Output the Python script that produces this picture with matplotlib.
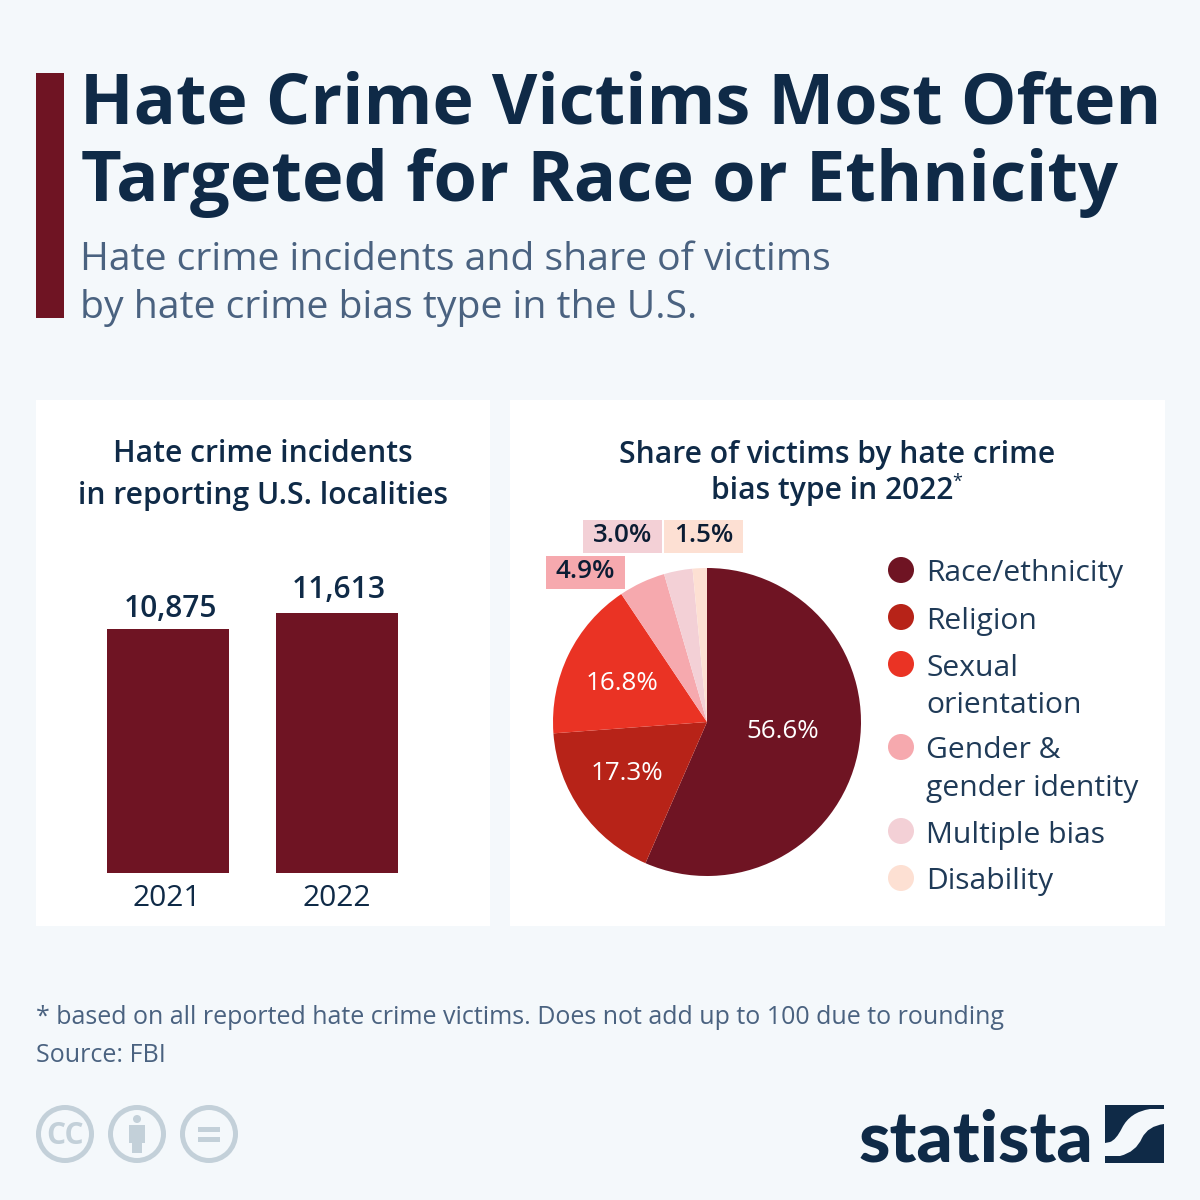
import matplotlib
matplotlib.use('Agg')
import matplotlib.pyplot as plt
from matplotlib.patches import Rectangle, Circle, PathPatch
from matplotlib.path import Path

plt.rcParams['font.family'] = ['Open Sans', 'DejaVu Sans']

years = ['2021', '2022']
incidents = [10875, 11613]

bias_types = ['Race/ethnicity', 'Religion', 'Sexual\norientation',
              'Gender &\ngender identity', 'Multiple bias', 'Disability']
shares = [56.6, 17.3, 16.8, 4.9, 3.0, 1.5]
pie_colors = ['#6f1423', '#b72318', '#ea3324', '#f6a9ae', '#f3d0d6', '#fde0d3']

BG = '#f4f8fb'
NAVY = '#0f2a47'
SLATE = '#4a6280'
ICON = '#c3d0d9'
PX = 0.72  # px to pt at dpi 100

fig = plt.figure(figsize=(12, 12), dpi=100, facecolor=BG)

# background layer, pixel coordinates
bg = fig.add_axes([0, 0, 1, 1], zorder=0)
bg.set_xlim(0, 1200)
bg.set_ylim(1200, 0)
bg.axis('off')
bg.add_patch(Rectangle((36, 73), 28, 245, color='#6f1423', lw=0))
bg.add_patch(Rectangle((36, 400), 454, 526, color='white', lw=0))
bg.add_patch(Rectangle((510, 400), 655, 526, color='white', lw=0))

# bars
ax = fig.add_axes([36 / 1200, (1200 - 873) / 1200, 454 / 1200, 313 / 1200], zorder=1)
ax.patch.set_alpha(0)
ax.set_xlim((36 - 168) / 169, (490 - 168) / 169)
ax.set_ylim(0, 313 / 0.02241)
ax.bar(range(len(years)), incidents, width=122 / 169, color='#6f1423')
ax.axis('off')
for i, (v, off) in enumerate(zip(incidents, (5, 8))):
    ax.annotate(f'{v:,}', (i, v), xytext=(2, off), textcoords='offset pixels',
                ha='center', va='bottom', fontsize=30 * PX,
                fontweight='semibold', color=NAVY)

# pie
R = 154
pie_ax = fig.add_axes([(707 - R) / 1200, (1200 - 722 - R) / 1200, 2 * R / 1200, 2 * R / 1200], zorder=1)
pie_ax.pie(shares, colors=pie_colors, startangle=90, counterclock=False, radius=1,
           wedgeprops={'linewidth': 0})
pie_ax.set_xlim(-1, 1)
pie_ax.set_ylim(-1, 1)

# text layer, pixel coordinates
top = fig.add_axes([0, 0, 1, 1], zorder=2)
top.set_xlim(0, 1200)
top.set_ylim(1200, 0)
top.axis('off')
top.patch.set_alpha(0)


def label(x, y, s, size, color=NAVY, weight='normal', ha='left', va='center', **kw):
    return top.text(x, y, s, fontsize=size * PX, color=color, fontweight=weight,
                    ha=ha, va=va, **kw)


label(80, 105, 'Hate Crime Victims Most Often', 70, weight='bold')
label(81, 183, 'Targeted for Race or Ethnicity', 70.4, weight='bold')
label(80, 260, 'Hate crime incidents and share of victims', 39.1, color=SLATE)
label(80, 308, 'by hate crime bias type in the U.S.', 39.1, color=SLATE)

label(262.5, 454, 'Hate crime incidents', 30, weight='semibold', ha='center')
label(262.5, 496, 'in reporting U.S. localities', 30, weight='semibold', ha='center')
label(837, 455, 'Share of victims by hate crime', 30, weight='semibold', ha='center')
label(832, 491, 'bias type in 2022', 30, weight='semibold', ha='center')
label(957, 482, '*', 18, weight='normal', ha='center')

label(167, 898, years[0], 30, ha='center')
label(337, 898, years[1], 30, ha='center')

# pie value labels
label(783, 731, f'{shares[0]}%', 26, color='white', weight='medium', ha='center')
label(627, 774, f'{shares[1]}%', 26, color='white', weight='medium', ha='center')
label(622, 683, f'{shares[2]}%', 26, color='white', weight='medium', ha='center')
tag_pos = [(546, 556), (583, 520), (664, 520)]
for (x, y), share, col in zip(tag_pos, shares[3:], pie_colors[3:]):
    top.add_patch(Rectangle((x, y), 79, 33, color=col, lw=0))
    label(x + 39.5, y + 16, f'{share}%', 26, color='#0b1c33', weight='semibold', ha='center')

# legend
legend_y = [571, 618, 665, 748, 832, 879]
for y, name, col in zip(legend_y, bias_types, pie_colors):
    top.add_patch(Circle((901, y - 1), 13, color=col, lw=0))
    lines = name.split('\n')
    for j, line in enumerate(lines):
        label(926.5, y + 3 + j * 37.5, line, 30, color='#1f3a57')

# footer
label(36, 1017, '* based on all reported hate crime victims. Does not add up to 100 due to rounding',
      25.05, color=SLATE)
label(36, 1055, 'Source: FBI', 25.05, color=SLATE)

# licence icons
for cx in (65, 137, 209):
    top.add_patch(Circle((cx, 1134), 26.5, fc='none', ec=ICON, lw=5 * PX))
label(65, 1136, 'CC', 30, color=ICON, weight='bold', ha='center')
top.add_patch(Circle((137, 1119), 4, color=ICON, lw=0))
top.add_patch(Rectangle((129, 1125), 16, 18, color=ICON, lw=0))
top.add_patch(Rectangle((132, 1140), 10, 13, color=ICON, lw=0))
top.add_patch(Rectangle((198, 1127), 22, 5, color=ICON, lw=0))
top.add_patch(Rectangle((198, 1137), 22, 5, color=ICON, lw=0))

# statista logo
label(976, 1162, 'statista', 71, weight='black', ha='center', va='baseline',
      family=['Lato', 'DejaVu Sans'])
verts = [(1105, 1105), (1164, 1105), (1164, 1109), (1150, 1109),
         (1130, 1112), (1122, 1128), (1116, 1140), (1110, 1142), (1105, 1143), (1105, 1105)]
codes = [Path.MOVETO, Path.LINETO, Path.LINETO, Path.LINETO,
         Path.CURVE3, Path.CURVE3, Path.CURVE3, Path.CURVE3, Path.LINETO, Path.CLOSEPOLY]
top.add_patch(PathPatch(Path(verts, codes), fc=NAVY, lw=0))
verts2 = [(1164, 1124), (1164, 1163), (1105, 1163), (1105, 1156), (1120, 1156),
          (1136, 1152), (1142, 1138), (1148, 1126), (1164, 1124), (1164, 1124)]
codes2 = [Path.MOVETO, Path.LINETO, Path.LINETO, Path.LINETO, Path.LINETO,
          Path.CURVE3, Path.CURVE3, Path.CURVE3, Path.CURVE3, Path.CLOSEPOLY]
top.add_patch(PathPatch(Path(verts2, codes2), fc=NAVY, lw=0))

fig.savefig('out.png', dpi=100, facecolor=BG)
